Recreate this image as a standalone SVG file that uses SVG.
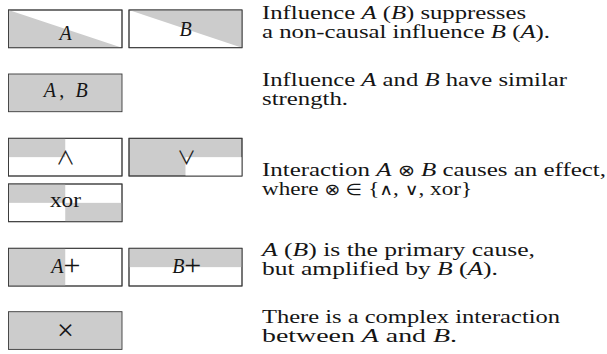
<svg xmlns="http://www.w3.org/2000/svg" width="607" height="354" viewBox="0 0 607 354">
<style>
.box{fill:#fff;stroke:#3a3a3a;stroke-width:0.9}
.g{fill:#cccccc;stroke:none}
.t{font-family:"Liberation Serif","DejaVu Serif",serif;font-size:19.5px;fill:#151515}
.l{font-size:20px}
.c{text-anchor:middle}
.i{font-style:italic}
.s{font-family:"DejaVu Sans",sans-serif;font-size:16px}
.k{font-family:"Noto Sans CJK JP","DejaVu Sans",sans-serif;font-size:19px;fill:#222}
.p{font-size:30px}
</style>
<rect width="607" height="354" fill="#fff"/>
<g id="node-A">
<rect class="box" x="8.5" y="10" width="113.5" height="37.7"/>
<polygon class="g" points="8.5,10 122,47.7 8.5,47.7"/>
<rect class="box" x="8.5" y="10" width="113.5" height="37.7" style="fill:none"/>
<text class="t l c i" x="65.5" y="39.5">A</text>
</g>
<g id="node-B">
<rect class="box" x="129" y="10" width="113" height="37.7"/>
<polygon class="g" points="129,10 242,10 242,47.7"/>
<rect class="box" x="129" y="10" width="113" height="37.7" style="fill:none"/>
<text class="t l c i" x="185.5" y="36">B</text>
</g>
<g id="node-AB">
<rect class="box" x="8.5" y="74" width="113.5" height="37.7" style="fill:#cccccc"/>
<text class="t l c" x="65.8" y="97" textLength="44" lengthAdjust="spacing"><tspan class="i">A</tspan>, <tspan class="i">B</tspan></text>
</g>
<g id="node-and">
<rect class="box" x="8.5" y="138.3" width="113.5" height="37.7"/>
<rect class="g" x="8.5" y="138.3" width="56.75" height="18.85"/>
<rect class="box" x="8.5" y="138.3" width="113.5" height="37.7" style="fill:none"/>
<text class="k c" x="65.5" y="164.5">∧</text>
</g>
<g id="node-or">
<rect class="box" x="129" y="138.3" width="113" height="37.7" style="fill:#cccccc"/>
<rect x="185.5" y="157.15" width="56.5" height="18.85" fill="#fff"/>
<rect class="box" x="129" y="138.3" width="113" height="37.7" style="fill:none"/>
<text class="k c" x="186.5" y="164.5">∨</text>
</g>
<g id="node-xor">
<rect class="box" x="8.5" y="184" width="113.5" height="37.7"/>
<rect class="g" x="8.5" y="184" width="56.75" height="18.85"/>
<rect class="g" x="65.25" y="202.85" width="56.75" height="18.85"/>
<rect class="box" x="8.5" y="184" width="113.5" height="37.7" style="fill:none"/>
<text class="t l c" x="65.5" y="206.5" textLength="31" lengthAdjust="spacingAndGlyphs">xor</text>
</g>
<g id="node-Aplus">
<rect class="box" x="8.5" y="248.3" width="113.5" height="37.7"/>
<rect class="g" x="8.5" y="248.3" width="56.75" height="37.7"/>
<rect class="box" x="8.5" y="248.3" width="113.5" height="37.7" style="fill:none"/>
<text class="t l c" x="65.8" y="273"><tspan class="i">A</tspan><tspan class="p" dy="2">+</tspan></text>
</g>
<g id="node-Bplus">
<rect class="box" x="129" y="248.3" width="113" height="37.7"/>
<rect class="g" x="129" y="248.3" width="113" height="18.85"/>
<rect class="box" x="129" y="248.3" width="113" height="37.7" style="fill:none"/>
<text class="t l c" x="186.7" y="273"><tspan class="i">B</tspan><tspan class="p" dy="2">+</tspan></text>
</g>
<g id="node-times">
<rect class="box" x="8.5" y="311.7" width="113.5" height="37.7" style="fill:#cccccc"/>
<text class="t c" x="65.5" y="339.5" style="font-size:30px">×</text>
</g>
<g id="connectors"/>
<g id="descriptions">
<text class="t" x="262" y="19" textLength="264" lengthAdjust="spacingAndGlyphs">Influence <tspan class="i">A</tspan> (<tspan class="i">B</tspan>) suppresses</text>
<text class="t" x="262" y="38" textLength="288" lengthAdjust="spacingAndGlyphs">a non-causal influence <tspan class="i">B</tspan> (<tspan class="i">A</tspan>).</text>
<text class="t" x="262" y="86" textLength="305" lengthAdjust="spacingAndGlyphs">Influence <tspan class="i">A</tspan> and <tspan class="i">B</tspan> have similar</text>
<text class="t" x="262" y="105" textLength="86" lengthAdjust="spacingAndGlyphs">strength.</text>
<text class="t" x="262" y="176" textLength="344" lengthAdjust="spacingAndGlyphs">Interaction <tspan class="i">A</tspan> <tspan class="s">⊗</tspan> <tspan class="i">B</tspan> causes an effect,</text>
<text class="t" x="262" y="195" textLength="210" lengthAdjust="spacingAndGlyphs">where <tspan class="s">⊗</tspan> <tspan class="s">∈</tspan> {<tspan class="s">∧</tspan>, <tspan class="s">∨</tspan>, xor}</text>
<text class="t" x="262" y="256" textLength="273" lengthAdjust="spacingAndGlyphs"><tspan class="i">A</tspan> (<tspan class="i">B</tspan>) is the primary cause,</text>
<text class="t" x="262" y="275" textLength="236" lengthAdjust="spacingAndGlyphs">but amplified by <tspan class="i">B</tspan> (<tspan class="i">A</tspan>).</text>
<text class="t" x="262" y="322.5" textLength="298" lengthAdjust="spacingAndGlyphs">There is a complex interaction</text>
<text class="t" x="262" y="341.5" textLength="195" lengthAdjust="spacingAndGlyphs">between <tspan class="i">A</tspan> and <tspan class="i">B</tspan>.</text>
</g>
</svg>
